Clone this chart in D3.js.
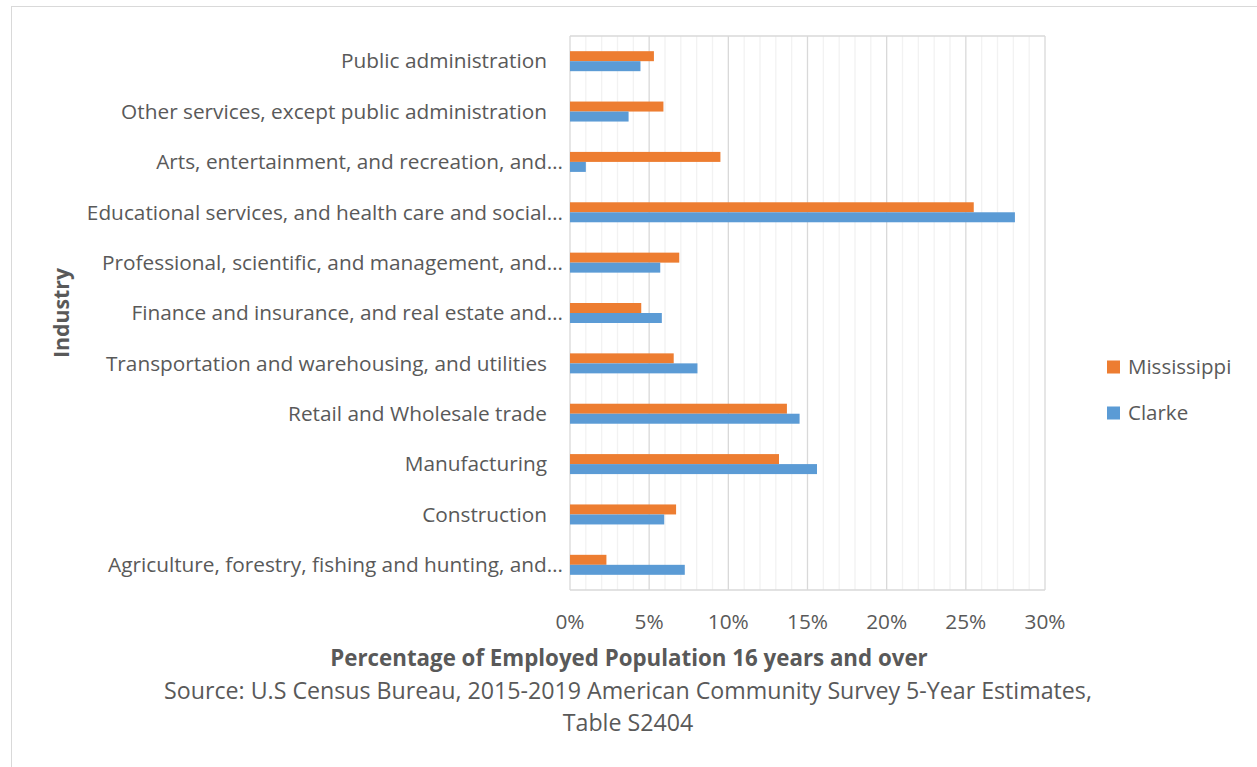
<!DOCTYPE html>
<html>
<head>
<meta charset="utf-8">
<script src="https://cdn.jsdelivr.net/npm/d3@7"></script>
<style>
  body { margin: 0; background: #fff; }
  text { font-family: "Open Sans", sans-serif; fill: #595959; }
</style>
</head>
<body>
<svg id="chart"></svg>
<script>
const width = 1257, height = 767;

// industries, bottom to top as drawn
const industries = [
  "Agriculture, forestry, fishing and hunting, and…",
  "Construction",
  "Manufacturing",
  "Retail and Wholesale trade",
  "Transportation and warehousing, and utilities",
  "Finance and insurance, and real estate and…",
  "Professional, scientific, and management, and…",
  "Educational services, and health care and social…",
  "Arts, entertainment, and recreation, and…",
  "Other services, except public administration",
  "Public administration"
];
const mississippi = [2.3, 6.7, 13.2, 13.7, 6.55, 4.5, 6.9, 25.5, 9.5, 5.9, 5.3];
const clarke      = [7.25, 5.95, 15.6, 14.5, 8.05, 5.8, 5.7, 28.1, 1.0, 3.7, 4.45];
const seriesNames = ["Mississippi", "Clarke"];
const seriesColors = ["#ed7d31", "#5b9bd5"];
const xTicks = [0, 5, 10, 15, 20, 25, 30];

const svg = d3.select("#chart").attr("width", width).attr("height", height);

// outer chart frame
svg.append("rect")
  .attr("x", 11.5).attr("y", 6.5)
  .attr("width", width + 10).attr("height", height + 10)
  .attr("fill", "none").attr("stroke", "#d9d9d9");

const plot = { left: 570, top: 36, right: 1045, bottom: 590 };

const x = d3.scaleLinear().domain([0, 30]).range([plot.left, plot.right]);
// top category first in the band scale
const y = d3.scaleBand()
  .domain(industries.slice().reverse())
  .range([plot.top, plot.bottom]);
const inner = d3.scaleBand().domain(seriesNames).range([0, 20]);

const g = svg.append("g");

// minor gridlines every 1%
g.selectAll(".minor")
  .data(d3.range(1, 30).filter(d => d % 5 !== 0))
  .join("line")
  .attr("x1", d => x(d)).attr("x2", d => x(d))
  .attr("y1", plot.top).attr("y2", plot.bottom)
  .attr("stroke", "#f2f2f2").attr("stroke-width", 1.3);

// major gridlines
g.selectAll(".major")
  .data(xTicks)
  .join("line")
  .attr("x1", d => x(d)).attr("x2", d => x(d))
  .attr("y1", plot.top).attr("y2", plot.bottom)
  .attr("stroke", "#d9d9d9").attr("stroke-width", 1.3);

// top and bottom border of the plot area
g.selectAll(".hborder")
  .data([plot.top, plot.bottom])
  .join("line")
  .attr("x1", plot.left).attr("x2", plot.right)
  .attr("y1", d => d).attr("y2", d => d)
  .attr("stroke", "#d9d9d9").attr("stroke-width", 1.3);

// bars
const rows = industries.map((name, i) => ({ name, values: [mississippi[i], clarke[i]] }));
const groups = g.selectAll(".cat")
  .data(rows)
  .join("g")
  .attr("transform", d => `translate(0,${y(d.name) + y.bandwidth() / 2 - 10})`);

groups.selectAll("rect")
  .data(d => d.values.map((v, k) => ({ v, k })))
  .join("rect")
  .attr("x", x(0))
  .attr("y", d => inner(seriesNames[d.k]))
  .attr("width", d => x(d.v) - x(0))
  .attr("height", inner.bandwidth())
  .attr("fill", d => seriesColors[d.k]);

// category labels (truncated ones run a bit further right, like Excel)
g.selectAll(".cat-label")
  .data(industries)
  .join("text")
  .attr("x", d => d.endsWith("…") ? 563 : 547)
  .attr("y", d => y(d) + y.bandwidth() / 2)
  .attr("dy", "0.35em")
  .attr("text-anchor", "end")
  .attr("font-size", 20.8)
  .text(d => d);

// x tick labels
g.selectAll(".tick-label")
  .data(xTicks)
  .join("text")
  .attr("x", d => x(d))
  .attr("y", 622)
  .attr("dy", "0.35em")
  .attr("text-anchor", "middle")
  .attr("font-size", 20.8)
  .text(d => d + "%");

// axis titles
svg.append("text")
  .attr("x", 629).attr("y", 658)
  .attr("dy", "0.35em")
  .attr("text-anchor", "middle")
  .attr("font-size", 22.3).attr("font-weight", "bold")
  .text("Percentage of Employed Population 16 years and over");

svg.append("text")
  .attr("transform", "translate(62,313) rotate(-90)")
  .attr("dy", "0.35em")
  .attr("text-anchor", "middle")
  .attr("font-size", 21.3).attr("font-weight", "bold")
  .text("Industry");

// source note
const source = ["Source: U.S Census Bureau, 2015-2019 American Community Survey 5-Year Estimates,", "Table S2404"];
svg.selectAll(".source")
  .data(source)
  .join("text")
  .attr("x", 628)
  .attr("y", (d, i) => 691 + i * 32)
  .attr("dy", "0.35em")
  .attr("text-anchor", "middle")
  .attr("font-size", 23.2)
  .text(d => d);

// legend
const legend = svg.selectAll(".legend")
  .data(seriesNames)
  .join("g")
  .attr("transform", (d, i) => `translate(1107,${367 + i * 46})`);
legend.append("rect")
  .attr("x", 0).attr("y", -6.5)
  .attr("width", 13).attr("height", 13)
  .attr("fill", (d, i) => seriesColors[i]);
legend.append("text")
  .attr("x", 21).attr("y", 0)
  .attr("dy", "0.35em")
  .attr("font-size", 20.5)
  .text(d => d);
</script>
</body>
</html>
